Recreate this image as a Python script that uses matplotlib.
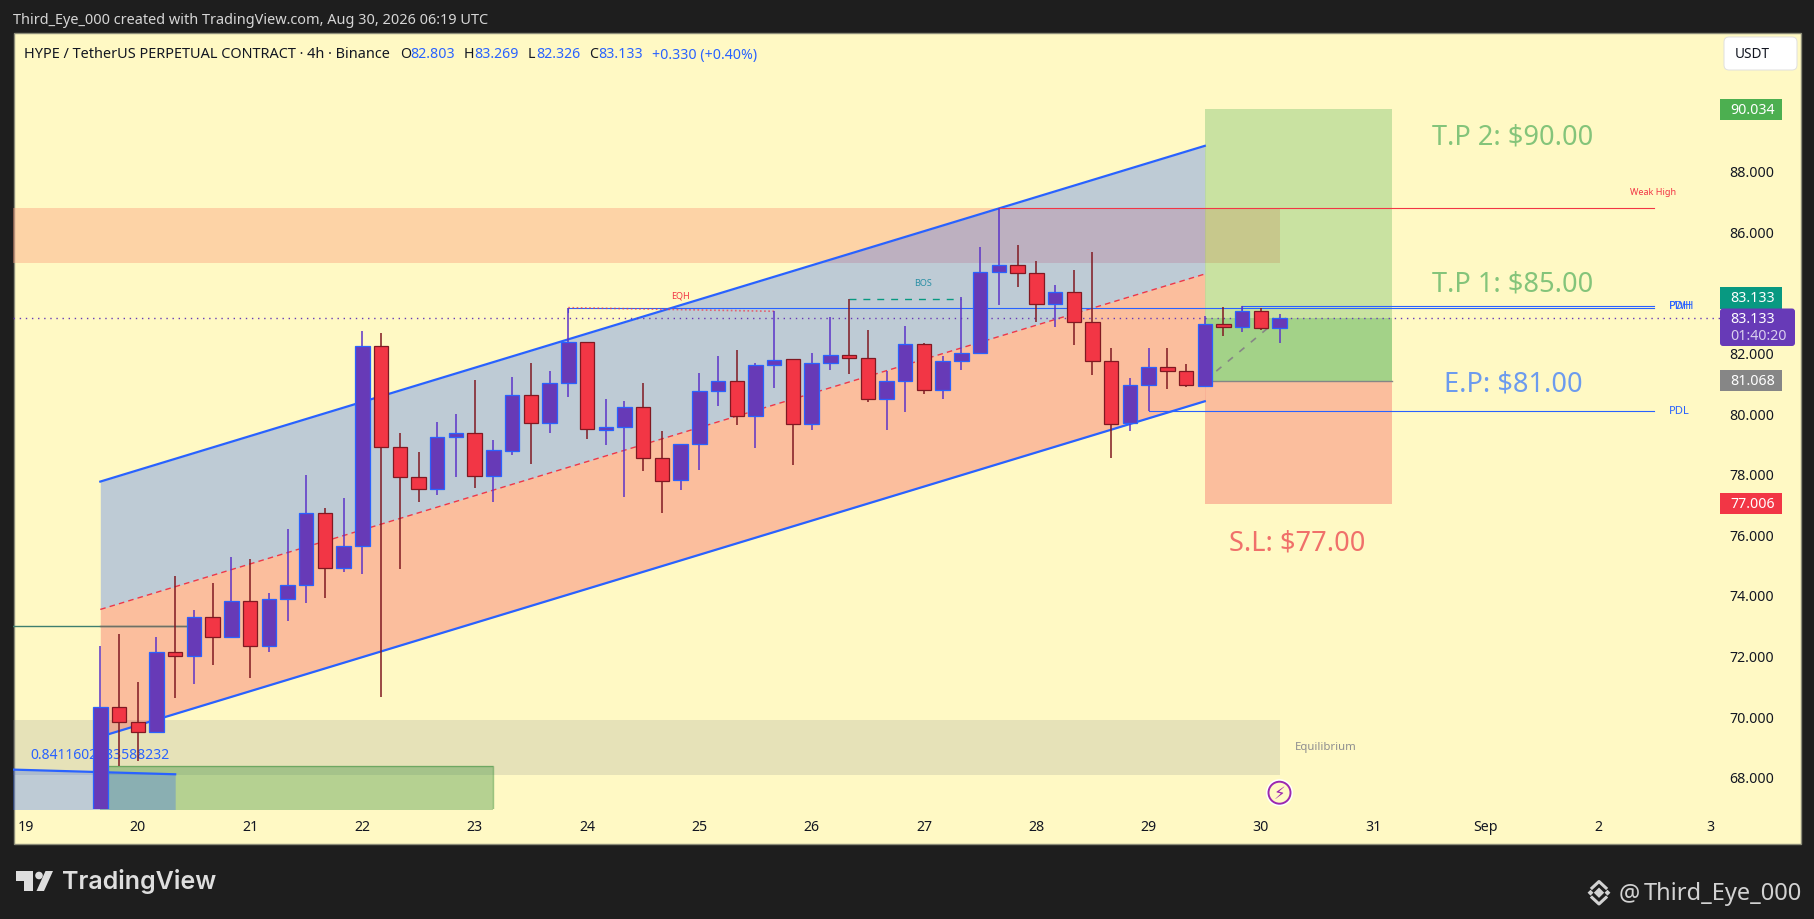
import numpy as np
import matplotlib
matplotlib.use('Agg')
import matplotlib.pyplot as plt
from matplotlib.patches import Rectangle, FancyBboxPatch, Circle, Polygon

plt.rcParams['font.family'] = ['Noto Sans', 'DejaVu Sans']

# 4h candles
opens = [65.90, 70.29, 69.79, 69.49, 72.11, 71.99, 73.27, 72.60, 73.79, 72.30,
         73.85, 74.32, 76.70, 74.90, 75.61, 82.21, 78.89, 77.90, 77.48, 79.20,
         79.33, 77.94, 78.76, 80.59, 79.68, 80.98, 82.34, 79.45, 79.53, 80.19,
         78.51, 77.78, 78.97, 80.72, 81.05, 79.89, 81.58, 81.77, 79.63, 81.64,
         81.91, 81.81, 80.455, 81.05, 82.27, 80.75, 81.71, 82.00, 84.65, 84.88,
         84.61, 83.59, 83.99, 83.00, 81.71, 79.66, 80.92, 81.51, 81.38, 80.89,
         82.93, 82.83, 83.36, 82.803]
highs = [72.31, 72.71, 71.13, 72.62, 74.63, 73.51, 74.39, 75.26, 75.19, 74.06,
         76.18, 77.96, 76.87, 77.20, 82.71, 82.64, 79.35, 78.72, 79.71, 79.97,
         81.10, 79.11, 81.19, 81.65, 81.39, 83.48, 82.34, 80.47, 80.40, 80.99,
         79.41, 78.97, 81.32, 81.89, 82.08, 81.65, 83.36, 81.77, 81.98, 83.17,
         83.755, 82.74, 81.39, 82.87, 82.31, 81.88, 83.82, 85.47, 86.76, 85.55,
         85.01, 84.22, 84.71, 85.31, 82.14, 81.15, 82.14, 82.14, 81.61, 83.19,
         83.49, 83.55, 83.46, 83.269]
lows = [65.50, 68.36, 68.51, 69.49, 70.61, 71.07, 71.70, 72.60, 71.27, 72.13,
        73.15, 73.74, 73.91, 74.77, 74.70, 70.64, 74.87, 77.05, 77.31, 77.90,
        77.54, 77.05, 78.63, 78.33, 79.35, 80.54, 79.16, 78.96, 77.24, 78.10,
        76.71, 77.47, 78.13, 80.25, 79.62, 78.86, 80.84, 78.30, 79.45, 81.43,
        81.30, 80.38, 79.45, 80.05, 80.64, 80.48, 81.43, 82.00, 83.58, 84.17,
        83.02, 82.85, 82.26, 81.27, 78.53, 79.42, 80.06, 80.81, 80.87, 80.89,
        82.56, 82.69, 82.75, 82.326]
closes = [70.29, 69.79, 69.49, 72.11, 71.99, 73.27, 72.60, 73.79, 72.30, 73.86,
          74.32, 76.70, 74.90, 75.61, 82.21, 78.89, 77.90, 77.48, 79.20, 79.33,
          77.94, 78.77, 80.59, 79.68, 80.98, 82.34, 79.46, 79.53, 80.19, 78.51,
          77.75, 78.97, 80.72, 81.05, 79.89, 81.58, 81.74, 79.63, 81.64, 81.91,
          81.81, 80.455, 81.05, 82.27, 80.75, 81.71, 82.00, 84.65, 84.88, 84.61,
          83.59, 83.99, 83.00, 81.71, 79.63, 80.92, 81.51, 81.38, 80.92, 82.93,
          82.83, 83.36, 82.80, 83.133]

price_ticks = [68, 70, 72, 74, 76, 78, 80, 82, 84, 86, 88]
time_ticks = [-4, 2, 8, 14, 20, 26, 32, 38, 44, 50, 56, 62, 68, 74, 80, 86]
time_labels = ['19', '20', '21', '22', '23', '24', '25', '26', '27', '28', '29',
               '30', '31', 'Sep', '2', '3']

# channel prices at its two ends (candle 0 and candle 59)
channel_x = [0, 59]
channel_top = [77.74, 88.82]
channel_mid = [73.52, 84.59]
channel_bot = [69.32, 80.39]

# older channel in the lower left corner
old_x = [-5, 4]
old_top = [68.24, 68.08]

supply_zone = [84.96, 86.77]
equilibrium_zone = [68.06, 69.87]
green_zone_top = 68.34

last_price = 83.133
tp_price = 90.034
entry_price = 81.068
stop_price = 77.006

eqh_level = 83.48
eqh_end = 83.36
pdh_level = 83.55
pdl_level = 80.06
bos_level = 83.755
weak_high = 86.76
left_level = 72.99

BG = '#FFF9C4'
FRAME = '#1E1E1E'
BLUE = '#2962FF'
RED = '#F23645'
GREEN = '#4CAF50'
PURPLE = '#673AB7'
DARK_RED = '#801922'

W, H = 1814, 920
fig = plt.figure(figsize=(W / 100, H / 100), dpi=100, facecolor=FRAME)

fig.patches.append(Rectangle((13.5 / W, 1 - 845 / H), (1801 - 13.5) / W, (845 - 34) / H,
                             transform=fig.transFigure, facecolor=BG,
                             edgecolor='#8C8C78', lw=1, zorder=-1))

# main axes: x in candles, y in price
ax_l, ax_r, ax_t, ax_b = 13, 1720, 34, 810
ax = fig.add_axes([ax_l / W, 1 - ax_b / H, (ax_r - ax_l) / W, (ax_b - ax_t) / H])
ax.patch.set_alpha(0)
x0, dx = 100.3, 18.72
y88, dy = 171.7, 30.3
ax.set_xlim((ax_l - x0) / dx, (ax_r - x0) / dx)
ax.set_ylim(88 - (ax_b - y88) / dy, 88 - (ax_t - y88) / dy)
for s in ax.spines.values():
    s.set_visible(False)

# zones
ax.fill_between([-5, 63], *supply_zone, color='#FA9A7B', alpha=0.4, lw=0, zorder=1)
ax.fill_between([-5, 63], *equilibrium_zone, color='#787B86', alpha=0.18, lw=0, zorder=1)
ax.fill_between([0, 21], 60, green_zone_top, color='#388E3C', alpha=0.37, lw=0, zorder=1)
ax.plot([0, 21, 21], [green_zone_top, green_zone_top, 60], color='#388E3C', alpha=0.5, lw=1, zorder=1.1)

# channels
ax.fill_between(channel_x, channel_mid, channel_top, color=BLUE, alpha=0.3, lw=0, zorder=2)
ax.fill_between(channel_x, channel_bot, channel_mid, color=RED, alpha=0.3, lw=0, zorder=2)
ax.plot(channel_x, channel_top, color=BLUE, lw=1.6, zorder=3)
ax.plot(channel_x, channel_bot, color=BLUE, lw=1.6, zorder=3)
ax.plot(channel_x, channel_mid, color=RED, lw=1, ls=(0, (4, 3)), zorder=3)
ax.fill_between(old_x, 60, old_top, color=BLUE, alpha=0.3, lw=0, zorder=2)
ax.plot(old_x, old_top, color=BLUE, lw=1.6, zorder=3)

# long position box
ax.fill_between([59, 69], entry_price, tp_price, color=GREEN, alpha=0.3, lw=0, zorder=2.2)
ax.fill_between([59, 69], entry_price, last_price, color=GREEN, alpha=0.3, lw=0, zorder=2.2)
ax.fill_between([59, 69], stop_price, entry_price, color=RED, alpha=0.3, lw=0, zorder=2.2)
ax.plot([59, 69], [entry_price, entry_price], color='#868686', lw=1, zorder=2.3)
ax.plot([59, 63], [entry_price, last_price], color='#868686', lw=1.2, ls=(0, (4, 5)), zorder=2.3)

# structure lines
ax.plot([-5, 5], [left_level, left_level], color='#3F7F6F', lw=1, zorder=3.2)
ax.plot([0, 5], [left_level, left_level], color='#6F6F66', lw=1, zorder=3.2)
ax.plot([25, 83], [eqh_level, eqh_level], color=BLUE, lw=0.8, zorder=3.2)
ax.plot([25, 25], [last_price + 0.2, eqh_level], color=BLUE, lw=0.8, zorder=3.2)
ax.plot([61, 83], [pdh_level, pdh_level], color=BLUE, lw=0.8, zorder=3.2)
ax.plot([61, 61], [83.36, pdh_level], color=BLUE, lw=0.8, zorder=3.2)
ax.plot([56, 83], [pdl_level, pdl_level], color=BLUE, lw=0.8, zorder=3.2)
ax.plot([25, 36], [eqh_level, eqh_end], color=RED, lw=1.2, ls=(0, (1, 1.5)), alpha=0.7, zorder=3.2)
ax.plot([40, 46], [bos_level, bos_level], color='#089981', lw=1, ls=(0, (5, 5)), zorder=3.2)
ax.plot([48, 83], [weak_high, weak_high], color=RED, lw=0.8, zorder=3.2)
ax.plot([-5, 90], [last_price, last_price], color=PURPLE, lw=1, ls=(0, (1, 3.4)), zorder=3.3)

ax.text(-3.72, 68.74, '0.8411602383588232', color=BLUE, fontsize=10.05, va='center', zorder=3.4)

# candles
o = np.array(opens)
h = np.array(highs)
l = np.array(lows)
c = np.array(closes)
x = np.arange(len(o))
up = c >= o
ax.vlines(x[up], l[up], h[up], color='#5C33C8', lw=1.1, zorder=4)
ax.vlines(x[~up], l[~up], h[~up], color=DARK_RED, lw=1.1, zorder=4)
ax.bar(x[up], c[up] - o[up], bottom=o[up], width=0.77, color=PURPLE, edgecolor=BLUE, lw=0.9, zorder=5)
ax.bar(x[~up], o[~up] - c[~up], bottom=c[~up], width=0.77, color=RED, edgecolor=DARK_RED, lw=0.9, zorder=5)

# axes labels
ax.yaxis.tick_right()
ax.set_yticks(price_ticks)
ax.set_yticklabels(['%.3f' % p for p in price_ticks], va='center_baseline')
ax.set_xticks(time_ticks)
ax.set_xticklabels(time_labels)
ax.tick_params(axis='both', length=0, labelcolor='#131722', labelsize=10.2)
ax.tick_params(axis='y', pad=7)
ax.tick_params(axis='x', pad=7.5)
for t in ax.get_yticklabels():
    if t.get_text() in ('70.000', '80.000'):
        t.set_fontweight('bold')
for t in ax.get_xticklabels():
    if t.get_text() == 'Sep':
        t.set_fontweight('bold')

# everything else is placed in pixels
ov = fig.add_axes([0, 0, 1, 1], zorder=10)
ov.set_xlim(0, W)
ov.set_ylim(H, 0)
ov.axis('off')
ov.patch.set_alpha(0)

ov.text(13, 20, 'Third_Eye_000 created with TradingView.com, Aug 30, 2026 06:19 UTC',
        color='#D6D6D6', fontsize=10.45, va='center')

ov.text(23.5, 55, 'HYPE / TetherUS PERPETUAL CONTRACT · 4h · Binance', color='#131722', fontsize=10.45, va='center')
header = [(400.5, 'O', '#131722'), (410.7, '82.803', BLUE), (464, 'H', '#131722'), (474, '83.269', BLUE),
          (528, 'L', '#131722'), (536, '82.326', BLUE), (589, 'C', '#131722'), (598, '83.133', BLUE),
          (652, '+0.330 (+0.40%)', BLUE)]
for hx, txt, col in header:
    ov.text(hx, 55, txt, color=col, fontsize=10.2, va='center')

ov.text(1513, 137, 'T.P 2: $90.00', color='#84C47A', fontsize=19.6, ha='center', va='center')
ov.text(1513, 285, 'T.P 1: $85.00', color='#84C47A', fontsize=19.6, ha='center', va='center')
ov.text(1513, 385, 'E.P: $81.00', color='#6C9BEE', fontsize=19.6, ha='center', va='center')
ov.text(1297, 544, 'S.L: $77.00', color='#F0706A', fontsize=19.6, ha='center', va='center')

ov.text(681, 296, 'EQH', color=RED, fontsize=6.5, ha='center', va='center')
ov.text(923, 284, 'BOS', color='#2A8FA5', fontsize=6.5, ha='center', va='center')
ov.text(1653, 192.7, 'Weak High', color=RED, fontsize=6.5, ha='center', va='center')
ov.text(1668.5, 306.5, 'PDH', color=BLUE, fontsize=8, va='center')
ov.text(1668.5, 306.5, 'PWH', color=BLUE, fontsize=8, va='center')
ov.text(1668.5, 411.7, 'PDL', color=BLUE, fontsize=8, va='center')
ov.text(1294.8, 748, 'Equilibrium', color='#8F8F90', fontsize=8.2, va='center')

# price tags
tags = [(100, 121, GREEN, '90.034'), (288, 309.5, '#089981', '83.133'),
        (371, 392, '#868686', '81.068'), (494, 515, RED, '77.006')]
for top, bot, col, txt in tags:
    ov.add_patch(Rectangle((1720, top), 62, bot - top, color=col, lw=0))
    ov.text(1730, (top + bot) / 2, txt, color='white', fontsize=10.2, va='center')
ov.add_patch(FancyBboxPatch((1720, 309.5), 75, 37.5, boxstyle='round,pad=0,rounding_size=3', fc=PURPLE, ec='none'))
ov.text(1730, 320, '83.133', color='white', fontsize=10.2, va='center')
ov.text(1730, 337, '01:40:20', color='#D9CFEE', fontsize=10.2, va='center')

ov.add_patch(FancyBboxPatch((1727, 41), 67, 27, boxstyle='round,pad=3,rounding_size=5',
                            fc='white', ec='#E0E0E0', lw=0.7))
ov.text(1735, 55, 'USDT', color='#131722', fontsize=9.8, va='center')

# lightning badge
ov.add_patch(Circle((1279.5, 793.7), 13.5, fc='white', ec='none'))
ov.add_patch(Circle((1279.5, 793.7), 11, fc=BG, ec='#9C27B0', lw=1.4))
ov.text(1279.5, 794, '\u26A1', color='#9C27B0', fontsize=12, ha='center', va='center', family='DejaVu Sans')

# footer
LOGO = '#DEDEDE'
ov.add_patch(Polygon([(15.5, 872), (33, 872), (33, 892), (24, 892), (24, 882), (15.5, 882)], fc=LOGO, ec='none'))
ov.add_patch(Circle((39, 876.5), 3.8, fc=LOGO, ec='none'))
ov.add_patch(Polygon([(45.5, 872), (53, 872), (44, 892), (36.5, 892)], fc=LOGO, ec='none'))
ov.text(62, 881.5, 'TradingView', color=LOGO, fontsize=18, fontweight='semibold', va='center', family='Inter')

ov.scatter([1599, 1590.5, 1607.5], [893.7, 893.7, 893.7], marker='D', s=[28, 9, 9], color='#D2D2D2', lw=0)
ov.plot([1592, 1599, 1606], [889, 882.5, 889], color='#D2D2D2', lw=2.2)
ov.plot([1592, 1599, 1606], [898.5, 905, 898.5], color='#D2D2D2', lw=2.2)
ov.text(1619, 894, '@', color='#D2D2D2', fontsize=17, va='center')
ov.text(1644, 894, 'Third_Eye_000', color='#D2D2D2', fontsize=17, va='center')

fig.savefig('out.png', dpi=100, facecolor=FRAME)
